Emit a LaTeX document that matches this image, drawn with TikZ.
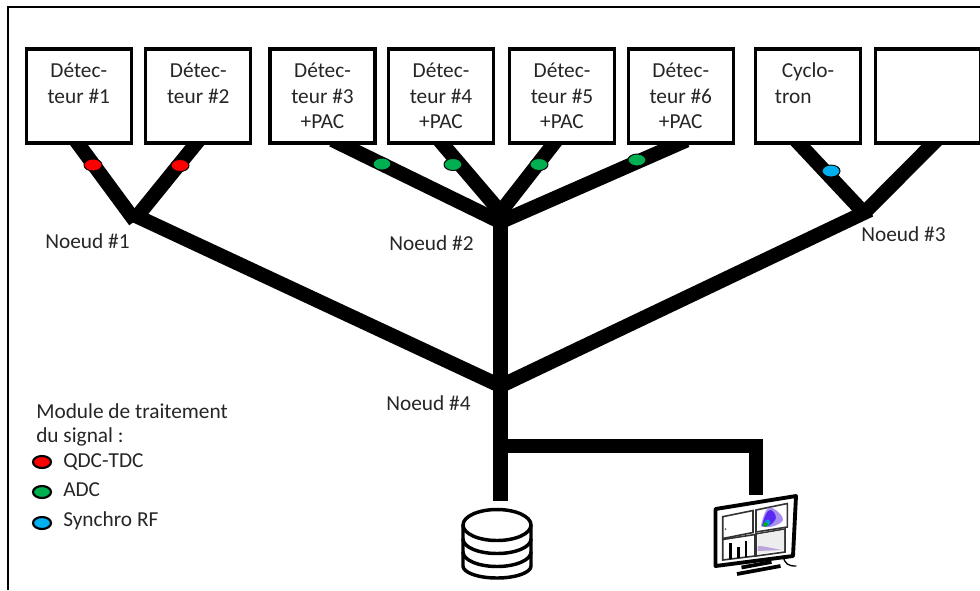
\documentclass[tikz,border=0pt]{standalone}
\usepackage{fontspec}
\setmainfont{Carlito}
\usetikzlibrary{shapes.geometric,backgrounds}
\newcommand{\pxu}{0.75pt}
\definecolor{txt}{HTML}{262626}
\definecolor{modred}{HTML}{FF0000}
\definecolor{modgreen}{HTML}{00B050}
\definecolor{modblue}{HTML}{00B0F0}
\definecolor{blobo}{HTML}{A890F0}
\definecolor{blobm}{HTML}{5A28F0}
\tikzset{
  lab/.style={font=\fontsize{16}{19.1}\selectfont, text=txt, inner sep=0pt},
  boxn/.style={lab, draw=black, fill=white, line width=2.4pt, align=center,
    minimum width=78.75pt, minimum height=70.5pt},
  bus/.style={draw=black, line width=10.8pt, line cap=butt, miter limit=10},
  busb/.style={bus, shorten <=-8pt},
  mod/.style={ellipse, draw=black, line width=0.7pt, minimum width=13.5pt, minimum height=9pt, inner sep=0pt},
  leg/.style={mod, line width=1.6pt, minimum width=13.5pt, minimum height=9pt},
  icon/.style={draw=black, line width=2.6pt, line join=round, line cap=round},
  pane/.style={draw=black!80, line width=1.2pt, line join=miter}
}
\begin{document}
\begin{tikzpicture}[x=0.75pt,y=-0.75pt]
\useasboundingbox (0,0) rectangle (980,590);
\clip (0,0) rectangle (980,590);
% frame
\coordinate (fa) at (980,7);
\coordinate (fb) at (8,7);
\coordinate (fc) at (8,590);
\draw[line width=1.1pt,black] (fa) -- (fb) -- (fc);
% boxes
\node[boxn] (d1) at (78.75,96) {Détec-\\teur \#1\\\phantom{+PAC}};
\node[boxn] (d2) at (198.25,96) {Détec-\\teur \#2\\\phantom{+PAC}};
\node[boxn] (d3) at (322.5,96) {Détec-\\teur \#3\\+PAC};
\node[boxn] (d4) at (441,96) {Détec-\\teur \#4\\+PAC};
\node[boxn] (d5) at (562,96) {Détec-\\teur \#5\\+PAC};
\node[boxn] (d6) at (680.75,96) {Détec-\\teur \#6\\+PAC};
\node[boxn] (cy) at (808,96) {Cyclo-\\tron\hbox{\kern 22pt}\\\phantom{+PAC}};
\node[boxn] (ex) at (928,96) {};
% junctions
\coordinate (n1a) at (135,221);
\coordinate (n1b) at (139,214);
\coordinate (n1c) at (135,215.5);
\coordinate (n2) at (500.5,222);
\coordinate (n2t) at (500.5,212);
\coordinate (n3a) at (865,214);
\coordinate (n3b) at (866,211);
\coordinate (n3c) at (870,210);
\coordinate (n4) at (500.5,386);
\coordinate (n5) at (500.5,446);
\coordinate (n6) at (756,446);
\coordinate (n7) at (756,495);
\coordinate (n8) at (500.5,501);
\begin{scope}[on background layer]
\draw[busb] (d1.south) -- (n1a);
\draw[busb] ([xshift=-3*\pxu]d2.south) -- (n1b);
\draw[bus] (n1c) -- (n4);
\draw[busb] ([xshift=19.5*\pxu]d3.south) -- (n2);
\draw[busb] ([xshift=2*\pxu]d4.south) -- (n2t);
\draw[busb] ([xshift=-9*\pxu]d5.south) -- (n2t);
\draw[busb] ([xshift=-4*\pxu]d6.south) -- (n2);
\draw[bus] (n2t) -- (n8);
\draw[busb] ([xshift=-8*\pxu]cy.south) -- (n3a);
\draw[busb] ([xshift=4*\pxu]ex.south) -- (n3b);
\draw[bus] (n3c) -- (n4);
\draw[bus] (n5) -- (n6) -- (n7);
\end{scope}
% signal modules
\node[mod,fill=modred] (m1) at (93,165) {};
\node[mod,fill=modred] (m2) at (180,165.5) {};
\node[mod,fill=modgreen] (m3) at (382,164) {};
\node[mod,fill=modgreen] (m4) at (453,164.5) {};
\node[mod,fill=modgreen] (m5) at (539,164.5) {};
\node[mod,fill=modgreen] (m6) at (637,160) {};
\node[mod,fill=modblue] (m7) at (831,171) {};
% node labels
\node[lab,anchor=west] (l1) at (45,241) {Noeud \#1};
\node[lab,anchor=west] (l2) at (389,243) {Noeud \#2};
\node[lab,anchor=west] (l3) at (861,234) {Noeud \#3};
\node[lab,anchor=west] (l4) at (386,403) {Noeud \#4};
% legend
\node[lab,anchor=west] (t1) at (36,411) {Module de traitement};
\node[lab,anchor=west] (t2) at (36,437) {du signal :};
\node[leg,fill=modred] (e1) at (42,462) {};
\node[leg,fill=modgreen] (e2) at (42,492) {};
\node[leg,fill=modblue] (e3) at (42,523) {};
\node[lab,anchor=west] (t3) at (63,462) {QDC-TDC};
\node[lab,anchor=west] (t4) at (63,490) {ADC};
\node[lab,anchor=west] (t5) at (63,521) {Synchro RF};
% database
\draw[icon] (497,525) ellipse [x radius=34, y radius=15.5];
\draw[icon] (463,525) -- (463,566) arc[start angle=180,end angle=0,x radius=34,y radius=12] -- (531,525);
\draw[icon] (463,539) arc[start angle=180,end angle=0,x radius=34,y radius=14.5];
\draw[icon] (463,552) arc[start angle=180,end angle=0,x radius=34,y radius=14.5];
% monitor
\draw[draw=black,line width=2.9pt,line join=round,fill=white] (715.5,509) -- (796,496) -- (793,556) -- (715.5,566) -- cycle;
% panes
\draw[pane] (722.7,516.7) -- (753,510.5) -- (753,532.5) -- (722.7,538.5) -- cycle;
\draw[pane] (756,510) -- (787.3,503.5) -- (787.3,527) -- (756,532) -- cycle;
\draw[pane] (722.7,539.5) -- (755,534.5) -- (755,556) -- (722.7,560) -- cycle;
\draw[pane] (756,534) -- (785,529) -- (785,552) -- (756,556) -- cycle;
% plot contents
\fill[black!60] (725.5,529) circle (1);
\fill[blobo] (761,526) .. controls (763,515) and (767,506) .. (771,507.5) .. controls (776,509) and (785,517) .. (782.5,521) .. controls (778,526) and (767,529) .. (761,526) -- cycle;
\fill[blobm] (762,526) .. controls (764,518) and (767,509) .. (771,510) .. controls (775,512) and (778,518) .. (774,521.5) .. controls (771,525) and (767,528) .. (762,526) -- cycle;
\fill[cyan!80!blue] (763,525.5) .. controls (764,522) and (767,518.5) .. (769,519.5) .. controls (771.5,521) and (770.5,524) .. (768.5,525.5) .. controls (767,526.5) and (765,527) .. (763,525.5) -- cycle;
\fill[green!70!black] (765.5,524.5) circle (2.2);
\fill[black!7] (757.5,534.5) -- (784,530) -- (784,550) -- (757.5,554) -- cycle;
\fill[blue!40!violet,opacity=.3] (757.5,546) .. controls (765,546) and (775,549) .. (782,550) -- (757.5,551) -- cycle;
\draw[line width=1.6pt,black] (730.5,559) -- (730.5,543);
\draw[line width=1.6pt,black] (738.5,558) -- (738.5,547);
\draw[line width=1.6pt,black] (746,557) -- (746,541);
% stand
\draw[line width=2.8pt,black] (741.5,567.5) -- (771.5,562);
\draw[line width=2.8pt,black] (737,574) -- (780.5,566);
\draw[line width=1pt,black,line cap=round] (783,556) .. controls (785,564) and (788,566) .. (796,566);
\end{tikzpicture}
\end{document}
